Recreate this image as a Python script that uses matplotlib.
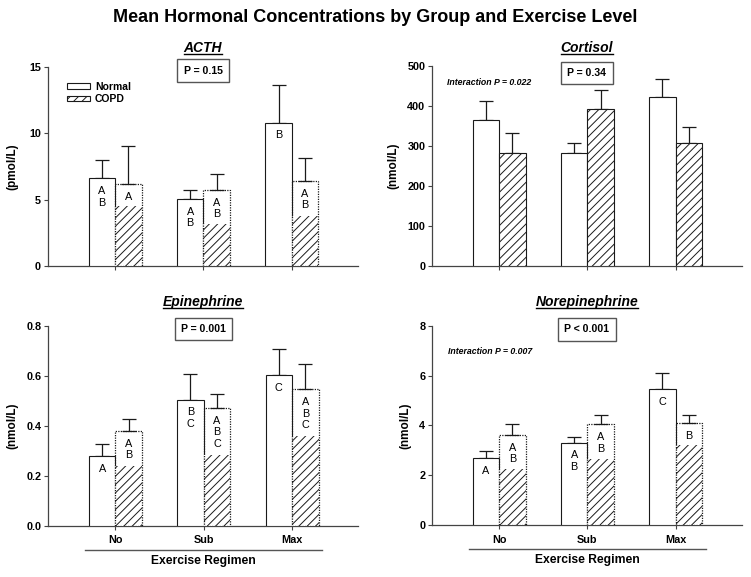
import matplotlib
matplotlib.use("Agg")
import matplotlib.pyplot as plt
import numpy as np
from matplotlib.lines import Line2D
from matplotlib.patches import Patch
import matplotlib.transforms as mtransforms

plt.rcParams['font.family'] = ['Liberation Sans', 'DejaVu Sans']
plt.rcParams['hatch.linewidth'] = 0.7

# ---------------- data ----------------
regimens = ["No", "Sub", "Max"]

acth_normal = [6.6, 5.03, 10.8]
acth_normal_sem = [1.4, 0.72, 2.85]
acth_copd = [6.15, 5.72, 6.38]
acth_copd_sem = [2.85, 1.18, 1.72]
acth_copd_hatch = [4.5, 3.15, 3.8]
acth_normal_letters = ["A\nB", "A\nB", "B"]
acth_copd_letters = ["A", "A\nB", "A\nB"]

cort_normal = [365, 281, 421]
cort_normal_sem = [47, 27, 46]
cort_copd = [281, 392, 308]
cort_copd_sem = [52, 48, 40]

epi_normal = [0.279, 0.504, 0.601]
epi_normal_sem = [0.049, 0.103, 0.104]
epi_copd = [0.378, 0.470, 0.545]
epi_copd_sem = [0.049, 0.055, 0.100]
epi_copd_hatch = [0.239, 0.282, 0.358]
epi_normal_letters = ["A", "B\nC", "C"]
epi_copd_letters = ["A\nB", "A\nB\nC", "A\nB\nC"]

nor_normal = [2.67, 3.31, 5.44]
nor_normal_sem = [0.29, 0.23, 0.66]
nor_copd = [3.61, 4.04, 4.08]
nor_copd_sem = [0.43, 0.36, 0.33]
nor_copd_hatch = [2.24, 2.65, 3.2]
nor_normal_letters = ["A", "A\nB", "C"]
nor_copd_letters = ["A\nB", "A\nB", "B"]

panels = [
    dict(title="ACTH", ylabel="(pmol/L)", ymax=15, yticks=[0, 5, 10, 15], fmt="{:.0f}",
         normal=acth_normal, nsem=acth_normal_sem, copd=acth_copd, csem=acth_copd_sem,
         hatch=acth_copd_hatch, nlet=acth_normal_letters, clet=acth_copd_letters,
         p="P = 0.15", py=0.98, inter=None, legend=True, labx=-0.097,
         rect=[0.0639, 0.5390, 0.4128, 0.3454], title_y=51.7),
    dict(title="Cortisol", ylabel="(nmol/L)", ymax=500, yticks=[0, 100, 200, 300, 400, 500], fmt="{:.0f}",
         normal=cort_normal, nsem=cort_normal_sem, copd=cort_copd, csem=cort_copd_sem,
         hatch=None, nlet=None, clet=None,
         p="P = 0.34", py=0.964, inter=("Interaction P = 0.022", 0.047, 0.915), legend=False, labx=-0.105,
         rect=[0.5756, 0.5395, 0.4120, 0.3466], title_y=51.7),
    dict(title="Epinephrine", ylabel="(nmol/L)", ymax=0.8, yticks=[0, 0.2, 0.4, 0.6, 0.8], fmt="{:.1f}",
         normal=epi_normal, nsem=epi_normal_sem, copd=epi_copd, csem=epi_copd_sem,
         hatch=epi_copd_hatch, nlet=epi_normal_letters, clet=epi_copd_letters,
         p="P = 0.001", py=0.983, inter=None, legend=False, labx=-0.097,
         rect=[0.0643, 0.0889, 0.4128, 0.3466], title_y=306.0),
    dict(title="Norepinephrine", ylabel="(nmol/L)", ymax=8, yticks=[0, 2, 4, 6, 8], fmt="{:.0f}",
         normal=nor_normal, nsem=nor_normal_sem, copd=nor_copd, csem=nor_copd_sem,
         hatch=nor_copd_hatch, nlet=nor_normal_letters, clet=nor_copd_letters,
         p="P < 0.001", py=0.982, inter=("Interaction P = 0.007", 0.05, 0.87), legend=False, labx=-0.066,
         rect=[0.5756, 0.0901, 0.4120, 0.3454], title_y=305.7),
]

W, H = 751, 577
fig = plt.figure(figsize=(W / 100, H / 100), dpi=100)
fig.text(0.5, 1 - 18 / H, "Mean Hormonal Concentrations by Group and Exercise Level",
         ha="center", va="center", fontsize=13, fontweight="bold")

x = np.arange(len(regimens))
bw = 0.3
LC = "#1a1a1a"
titles = []
for i, pn in enumerate(panels):
    ax = fig.add_axes(pn["rect"])
    xn = x - bw / 2
    xc = x + bw / 2
    ax.bar(xn, pn["normal"], width=bw, facecolor="white", edgecolor=LC, linewidth=0.8, zorder=3)
    if pn["hatch"] is None:
        ax.bar(xc, pn["copd"], width=bw, facecolor="white", edgecolor=LC, linewidth=0.8,
               hatch="////", zorder=3)
    else:
        ax.bar(xc, pn["hatch"], width=bw, facecolor="white", edgecolor=LC, linewidth=0,
               hatch="////", zorder=3)
        ax.bar(xc, pn["copd"], width=bw, fill=False, edgecolor=LC, linewidth=0.9,
               linestyle=(0, (1, 1)), zorder=4)
    ax.errorbar(xn, pn["normal"], yerr=[np.zeros(3), pn["nsem"]], fmt="none", ecolor=LC,
                elinewidth=0.9, capsize=5, capthick=0.9, zorder=2)
    ax.errorbar(xc, pn["copd"], yerr=[np.zeros(3), pn["csem"]], fmt="none", ecolor=LC,
                elinewidth=0.9, capsize=5, capthick=0.9, zorder=2)
    if pn["nlet"] is not None:
        for xi, v, s in zip(xn, pn["normal"], pn["nlet"]):
            ax.annotate(s, (xi, v), xytext=(0, -5.5), textcoords="offset points",
                        ha="center", va="top", fontsize=7.8, linespacing=1.2, zorder=5)
        for xi, v, s in zip(xc, pn["copd"], pn["clet"]):
            ax.annotate(s, (xi, v), xytext=(0, -5.5), textcoords="offset points",
                        ha="center", va="top", fontsize=7.8, linespacing=1.2, zorder=5)

    ax.set_xlim(-0.76, 2.75)
    ax.set_ylim(0, pn["ymax"])
    ax.set_yticks(pn["yticks"])
    ax.set_yticklabels([pn["fmt"].format(t) for t in pn["yticks"]], fontsize=7.8, fontweight="bold")
    ax.set_xticks(x)
    for s in ["top", "right"]:
        ax.spines[s].set_visible(False)
    for s in ["left", "bottom"]:
        ax.spines[s].set_color("#444444")
        ax.spines[s].set_linewidth(0.9)
    ax.tick_params(axis="both", direction="out", length=3, width=0.8, color="#444444", pad=2)
    ax.set_ylabel(pn["ylabel"], fontsize=8.5, fontweight="bold")
    ax.yaxis.set_label_coords(pn["labx"], 0.5)
    if i >= 2:
        ax.set_xticklabels(regimens, fontsize=7.8, fontweight="bold")
        ax.tick_params(axis="x", pad=4)
        trans = mtransforms.blended_transform_factory(ax.transData, ax.transAxes)
        ax.add_line(Line2D([-0.34, 2.34], [-0.122, -0.122], transform=trans, color="#555555",
                           linewidth=1.0, clip_on=False))
        ax.text(1.0, -0.176, "Exercise Regimen", transform=trans, ha="center", va="center",
                fontsize=8.7, fontweight="bold")
    else:
        ax.set_xticklabels([])

    ax.text(0.5, pn["py"], pn["p"], transform=ax.transAxes, ha="center", va="center",
            fontsize=7.6, fontweight="bold", zorder=6,
            bbox=dict(boxstyle="square,pad=0.6", facecolor="white", edgecolor="#555555", linewidth=1.0))
    if pn["inter"] is not None:
        txt, ix, iy = pn["inter"]
        ax.text(ix, iy, txt, transform=ax.transAxes, ha="left", va="center",
                fontsize=6.3, fontweight="bold", fontstyle="italic")
    if pn["legend"]:
        handles = [Patch(facecolor="white", edgecolor=LC, linewidth=0.8, label="Normal"),
                   Patch(facecolor="white", edgecolor=LC, linewidth=0.8, hatch="////", label="COPD")]
        ax.legend(handles=handles, loc="upper left", bbox_to_anchor=(0.061, 0.925), frameon=False,
                  prop=dict(weight="bold", size=7.5), handlelength=2.2, handleheight=0.4,
                  handletextpad=0.5, labelspacing=0.25, borderpad=0, borderaxespad=0)

    cx = pn["rect"][0] + pn["rect"][2] / 2
    t = fig.text(cx, 1 - pn["title_y"] / H, pn["title"], ha="center", va="baseline",
                 fontsize=10, fontweight="bold", fontstyle="italic")
    titles.append((t, pn["title_y"]))

fig.canvas.draw()
renderer = fig.canvas.get_renderer()
for t, ty in titles:
    bb = t.get_window_extent(renderer)
    y = 1 - (ty + 2.0) / H
    fig.add_artist(Line2D([bb.x0 / W, bb.x1 / W], [y, y], transform=fig.transFigure,
                          color="black", linewidth=1.0))

fig.savefig("out.png", dpi=100)
